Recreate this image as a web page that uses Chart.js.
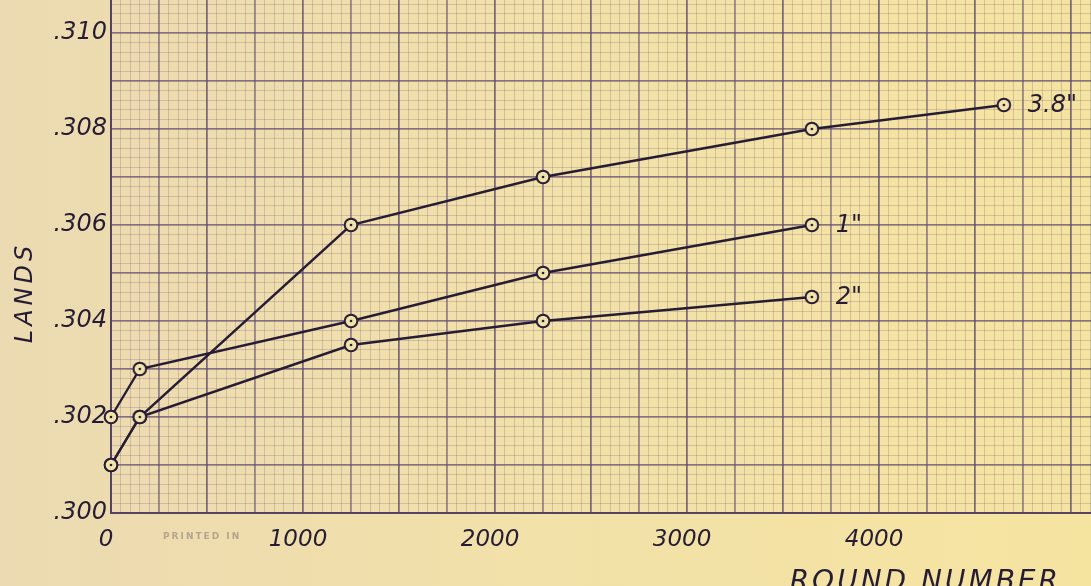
<!DOCTYPE html>
<html lang="en">
<head>
<meta charset="UTF-8">
<title>Lands vs Round Number</title>
<script src="https://cdn.jsdelivr.net/npm/chart.js"></script>
<style>
  html, body { margin: 0; padding: 0; background: #efdca8; overflow: hidden; }
  .chart-box { width: 1091px; height: 586px; }
</style>
</head>
<body>
<div class="chart-box"><canvas id="landsChart" width="1091" height="586"></canvas></div>
<script>
// values
const rounds38 = [0, 150, 1250, 2250, 3650, 4650];
const lands38  = [0.301, 0.302, 0.306, 0.307, 0.308, 0.3085];
const rounds1  = [0, 150, 1250, 2250, 3650];
const lands1   = [0.302, 0.303, 0.304, 0.305, 0.306];
const rounds2  = [0, 150, 1250, 2250, 3650];
const lands2   = [0.301, 0.302, 0.3035, 0.304, 0.3045];
const seriesNames = ['3.8"', '1"', '2"'];
const xTickLabels = [0, 1000, 2000, 3000, 4000];
const yTickLabels = ['.300', '.302', '.304', '.306', '.308', '.310'];

const ink = 'rgb(38, 28, 52)';
const paper = 'rgb(242, 226, 172)';
const handFont = 'DejaVu Sans';

function toPoints(xs, ys) {
    return xs.map((x, i) => ({ x: x, y: ys[i] }));
}

// small circle with a dot in the middle, like the hand plotted marks
function makeMarker() {
    const c = document.createElement('canvas');
    c.width = 18; c.height = 18;
    const g = c.getContext('2d');
    g.beginPath();
    g.arc(9, 9, 6.3, 0, Math.PI * 2);
    g.fillStyle = paper;
    g.fill();
    g.lineWidth = 2;
    g.strokeStyle = ink;
    g.stroke();
    g.beginPath();
    g.arc(9, 9, 1.3, 0, Math.PI * 2);
    g.fillStyle = ink;
    g.fill();
    return c;
}
const marker = makeMarker();

// scales add room for their labels; the paper has none
function noPadding(s) {
    s.paddingTop = 0; s.paddingBottom = 0; s.paddingLeft = 0; s.paddingRight = 0;
}

const paperBackground = {
    id: 'paperBackground',
    beforeDraw(chart) {
        const ctx = chart.ctx;
        const grad = ctx.createLinearGradient(0, 0, chart.width, 0);
        grad.addColorStop(0, 'rgb(236, 218, 178)');
        grad.addColorStop(0.5, 'rgb(242, 225, 168)');
        grad.addColorStop(1, 'rgb(245, 228, 160)');
        ctx.save();
        ctx.fillStyle = grad;
        ctx.fillRect(0, 0, chart.width, chart.height);
        ctx.restore();
    }
};

const seriesNotes = {
    id: 'seriesNotes',
    afterDatasetsDraw(chart) {
        const ctx = chart.ctx;
        ctx.save();
        ctx.font = 'italic 24px "' + handFont + '"';
        ctx.fillStyle = ink;
        ctx.textBaseline = 'middle';
        chart.data.datasets.forEach((ds, i) => {
            const pts = chart.getDatasetMeta(i).data;
            const last = pts[pts.length - 1];
            ctx.fillText(seriesNames[i], last.x + 24, last.y + 1);
        });
        ctx.restore();
    }
};

const axisTitles = {
    id: 'axisTitles',
    afterDraw(chart) {
        const ctx = chart.ctx;
        const area = chart.chartArea;
        ctx.save();
        ctx.fillStyle = ink;
        ctx.font = 'italic 28px "DejaVu Sans"';
        ctx.letterSpacing = '3px';
        ctx.textAlign = 'right';
        ctx.textBaseline = 'alphabetic';
        ctx.fillText('ROUND NUMBER', area.right - 30, chart.height + 4);

        ctx.translate(26, (area.top + area.bottom) / 2 + 36);
        ctx.rotate(-Math.PI / 2);
        ctx.textAlign = 'center';
        ctx.textBaseline = 'middle';
        ctx.font = 'italic 24px "DejaVu Sans"';
        ctx.letterSpacing = '4px';
        ctx.fillText('LANDS', 0, 0);
        ctx.restore();

        ctx.save();
        ctx.fillStyle = 'rgba(110, 95, 105, 0.45)';
        ctx.font = 'bold 9px "DejaVu Sans"';
        ctx.letterSpacing = '2px';
        ctx.textBaseline = 'middle';
        ctx.fillText('PRINTED IN', area.left + 52, area.bottom + 24);
        ctx.restore();
    }
};

const ctx = document.getElementById('landsChart').getContext('2d');
const chart = new Chart(ctx, {
    type: 'scatter',
    data: {
        datasets: [
            { label: seriesNames[0], data: toPoints(rounds38, lands38) },
            { label: seriesNames[1], data: toPoints(rounds1, lands1) },
            { label: seriesNames[2], data: toPoints(rounds2, lands2) }
        ].map(ds => Object.assign(ds, {
            showLine: true,
            borderColor: ink,
            borderWidth: 2.4,
            pointStyle: marker,
            pointRadius: 7,
            tension: 0,
            clip: false
        }))
    },
    options: {
        responsive: false,
        animation: false,
        layout: { padding: 0, autoPadding: false },
        plugins: {
            legend: { display: false },
            tooltip: { enabled: false }
        },
        scales: {
            xFine: {
                type: 'linear', position: 'bottom', min: 0, max: 5104,
                ticks: { display: false, stepSize: 50, includeBounds: false },
                grid: { color: 'rgba(125, 100, 130, 0.28)', lineWidth: 1, drawTicks: false },
                border: { display: false },
                afterFit(s) { s.height = 0; noPadding(s); }
            },
            yFine: {
                type: 'linear', position: 'left', min: 0.300, max: 0.3106875,
                ticks: { display: false, stepSize: 0.0002, includeBounds: false },
                grid: { color: 'rgba(125, 100, 130, 0.28)', lineWidth: 1, drawTicks: false },
                border: { display: false },
                afterFit(s) { s.width = 0; noPadding(s); }
            },
            x: {
                type: 'linear', position: 'bottom', min: 0, max: 5104,
                ticks: {
                    stepSize: 250,
                    includeBounds: false,
                    autoSkip: false,
                    maxRotation: 0,
                    labelOffset: -5,
                    padding: 13,
                    color: ink,
                    font: { family: handFont, size: 23, style: 'italic' },
                    callback: v => xTickLabels.includes(v) ? String(v) : ''
                },
                grid: {
                    color: c => (c.tick && c.tick.value % 500 === 0) ? 'rgba(95, 72, 110, 0.8)' : 'rgba(105, 82, 118, 0.65)',
                    lineWidth: 1.6,
                    drawTicks: false
                },
                border: { color: 'rgba(80, 60, 95, 0.9)', width: 2 },
                afterFit(s) { s.height = 73; noPadding(s); }
            },
            y: {
                type: 'linear', position: 'left', min: 0.300, max: 0.3106875,
                ticks: {
                    stepSize: 0.001,
                    includeBounds: false,
                    autoSkip: false,
                    padding: 4,
                    color: ink,
                    font: { family: handFont, size: 24, style: 'italic' },
                    callback: v => {
                        const t = '.' + Math.round(v * 1000);
                        return yTickLabels.includes(t) ? t : '';
                    }
                },
                grid: {
                    color: 'rgba(95, 72, 110, 0.72)',
                    lineWidth: 1.6,
                    drawTicks: false
                },
                border: { color: 'rgba(80, 60, 95, 0.9)', width: 2 },
                afterFit(s) { s.width = 111; noPadding(s); }
            }
        }
    },
    plugins: [paperBackground, seriesNotes, axisTitles]
});
</script>
</body>
</html>
